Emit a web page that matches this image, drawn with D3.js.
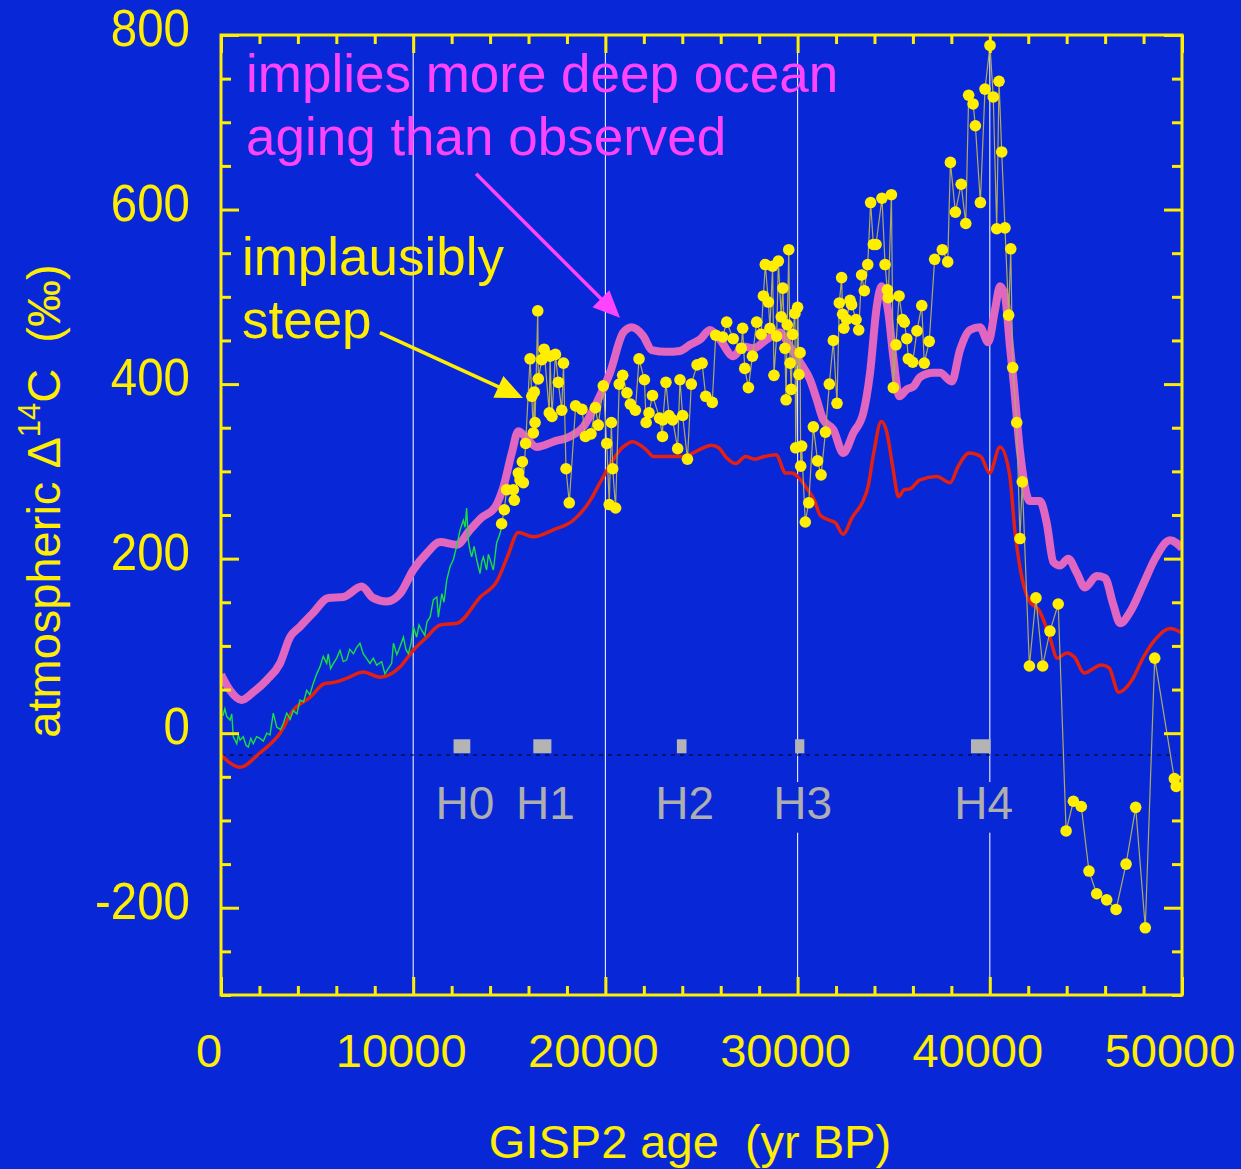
<!DOCTYPE html>
<html>
<head>
<meta charset="utf-8">
<script src="https://cdn.jsdelivr.net/npm/d3@7"></script>
<style>
  html, body { margin: 0; padding: 0; background: #0828d8; }
  svg { display: block; }
  text { font-family: "Liberation Sans", Arial, Helvetica, sans-serif; }
</style>
</head>
<body>
<svg id="chart" width="1241" height="1169"></svg>
<script>
// ---- data: [GISP2 age (yr BP), atmospheric Δ14C (‰)] ----

// tree-ring / varve based record
const treeRingRecord = [
  [100,20],[200,28],[300,19],[470,15],[560,22],[640,-4],[820,-12],[900,-2],[990,-8],[1160,-4],
  [1300,-14],[1420,-16],[1550,-6],[1680,-12],[1850,-4],[2030,-6],[2200,-9],[2380,0],[2550,-2],
  [2720,23],[2900,7],[3100,4],[3240,11],[3420,23],[3600,16],[3760,26],[3950,22],[4110,38],
  [4300,36],[4460,49],[4620,44],[4800,57],[4980,68],[5150,76],[5320,88],[5500,80],[5580,91],
  [5700,74],[5850,80],[6020,86],[6190,95],[6360,82],[6540,84],[6700,96],[6890,91],[7050,98],
  [7230,103],[7400,91],[7560,86],[7750,80],[7920,86],[8100,78],[8360,82],[8530,68],[8700,74],
  [8880,80],[8970,103],[9150,90],[9310,99],[9490,110],[9620,96],[9750,91],[9900,104],
  [10010,122],[10180,110],[10300,124],[10440,118],[10600,112],[10720,128],[10880,133],
  [11050,153],[11230,156],[11310,133],[11490,160],[11600,150],[11750,176],[11920,191],
  [12090,199],[12260,214],[12440,233],[12610,244],[12700,236],[12780,258],[12870,221],
  [12950,210],[13040,202],[13170,214],[13300,199],[13480,183],[13560,196],[13650,202],
  [13820,187],[13910,205],[14000,199],[14170,187],[14340,218],[14520,229],[14600,237]
];

// model run requiring extra deep-ocean aging (thick pink)
const agingModel = [
  [0,67],[470,49],[1070,38],[1680,47],[2380,61],[3070,80],[3590,110],[4110,122],[4800,138],
  [5580,155],[6350,156],[7320,168],[7910,155],[8620,151],[9320,160],[10000,187],[10700,206],
  [11400,219],[12260,216],[12960,233],[13560,247],[14260,259],[14690,282],[15130,321],
  [15470,346],[15820,340],[16430,328],[17290,334],[18160,340],[18850,351],[19550,379],
  [20240,413],[20930,459],[21370,465],[21970,455],[22410,439],[23190,437],[23880,438],
  [24400,445],[24920,451],[25440,462],[25960,451],[26650,432],[27180,443],[27700,441],
  [28390,451],[29080,459],[29600,443],[30130,425],[30650,405],[31000,382],[31340,359],
  [31860,348],[32380,321],[32900,344],[33420,367],[33770,413],[34120,489],[34370,512],
  [34720,482],[34980,431],[35300,386],[35680,394],[36020,397],[36370,408],[37060,413],
  [37410,413],[38020,403],[38450,439],[38970,462],[39490,465],[39920,448],[40270,485],
  [40530,512],[40790,501],[41050,443],[41250,400],[41570,323],[42090,266],[42610,266],
  [42960,241],[43310,196],[43650,192],[44080,200],[44520,184],[44950,167],[45560,180],
  [45990,178],[46430,147],[46780,126],[47300,139],[47990,171],[48600,200],[49380,221],[50000,212]
];

// model run from the GISP2 10Be/36Cl production record (red)
const productionModel = [
  [0,-25],[1000,-39],[2000,-23],[3070,0],[3750,26],[4630,41],[5400,57],[5830,58],[6560,63],
  [7400,70],[8280,64],[9320,76],[10000,95],[10700,110],[11400,124],[12290,126],[13490,156],
  [14380,175],[14900,202],[15470,230],[16250,225],[17290,233],[18330,244],[19220,267],
  [19720,287],[20920,328],[21410,334],[22110,325],[22510,317],[23300,317],[24100,317],
  [24900,325],[25500,330],[25890,327],[26290,316],[26790,309],[27290,317],[27780,314],
  [28280,317],[28880,319],[29380,298],[29680,298],[30470,281],[30870,267],[31170,250],
  [31660,244],[31970,241],[32360,228],[32860,248],[33360,264],[33660,282],[33960,321],
  [34350,357],[34650,344],[34950,305],[35250,271],[35550,279],[35850,280],[36350,290],
  [37240,294],[37940,287],[38340,305],[38930,321],[39530,317],[39990,298],[40530,328],
  [41020,298],[41320,229],[41620,184],[42020,153],[42610,139],[43120,110],[43510,86],
  [44010,92],[44410,87],[44910,69],[45800,78],[46200,75],[46700,47],[47400,61],[47990,87],
  [48590,107],[49380,120],[49980,115]
];

// Cariaco Basin / coral measurements (yellow points)
const measurements = [
  [14600,240],[14740,256],[14860,279],[15210,279],[15260,267],[15470,298],[15560,290],
  [15680,311],[15730,287],[15850,332],[16080,429],[16170,386],[16250,344],[16300,391],
  [16340,356],[16480,484],[16510,406],[16690,428],[16810,440],[17080,367],[17120,432],
  [17220,363],[17400,434],[17550,402],[17730,370],[17820,424],[17950,303],[18120,264],
  [18450,375],[18780,371],[18960,340],[19250,343],[19480,373],[19630,353],[19890,398],
  [20070,332],[20200,262],[20310,356],[20380,303],[20530,258],[20720,400],[20900,410],
  [21120,390],[21300,377],[21560,370],[21750,429],[22030,405],[22120,356],[22270,367],
  [22450,387],[22820,361],[22970,340],[22990,359],[23150,402],[23310,364],[23500,359],
  [23760,326],[23880,405],[24020,364],[24270,314],[24470,400],[24770,422],[25030,424],
  [25220,386],[25560,379],[25740,456],[26100,454],[26310,471],[26650,452],[27070,441],
  [27140,464],[27250,418],[27440,396],[27650,432],[27870,471],[28100,457],[28220,501],
  [28320,537],[28480,494],[28560,464],[28700,535],[28770,410],[28910,455],[29000,541],
  [29150,477],[29230,510],[29340,441],[29400,382],[29460,468],[29540,554],[29610,424],
  [29670,394],[29740,457],[29860,481],[29900,327],[30000,488],[30070,411],[30130,436],
  [30160,306],[30210,329],[30400,242],[30580,264],[30820,351],[31040,312],[31220,296],
  [31450,345],[31650,400],[31860,450],[32050,378],[32170,493],[32290,522],[32340,480],
  [32410,464],[32550,474],[32730,496],[32810,491],[33040,474],[33180,462],[33330,525],
  [33470,507],[33650,537],[33800,608],[33940,560],[34080,560],[34390,613],[34550,537],
  [34670,508],[34720,499],[34880,617],[34980,396],[35120,445],[35280,501],[35460,474],
  [35550,471],[35680,452],[35760,429],[35990,425],[36210,461],[36460,490],[36590,424],
  [36850,449],[37130,543],[37530,554],[37810,540],[37950,654],[38210,597],[38510,629],
  [38750,584],[38900,731],[39130,721],[39250,696],[39510,608],[39750,738],[40010,788],
  [40180,729],[40360,578],[40480,747],[40620,666],[40790,579],[40980,479],[41090,555],
  [41190,419],[41400,356],[41570,223],[41690,288],[42060,77],[42400,155],[42750,77],
  [43130,117],[43560,148],[43970,-112],[44350,-78],[44760,-84],[45160,-158],[45560,-184],
  [46080,-191],[46570,-202],[47090,-150],[47590,-85],[48090,-223],[48580,86],[49600,-52],[49700,-61]
];

// Heinrich events: age span (yr BP)
const heinrichNames = ["H0", "H1", "H2", "H3", "H4"];
const heinrichStart = [12100, 16250, 23720, 29870, 39020];
const heinrichEnd   = [12970, 17190, 24220, 30350, 40040];

// axes
const xMajorTicks = [0, 10000, 20000, 30000, 40000, 50000];
const xTickLabels = ["0", "10000", "20000", "30000", "40000", "50000"];
const yMajorTicks = [-200, 0, 200, 400, 600, 800];
const yTickLabels = ["-200", "0", "200", "400", "600", "800"];
const xGridLines = [10000, 20000, 30000, 40000];
const referenceLevel = -25;

// ---- drawing ----
const YELLOW = "#ffee00", PINK = "#e066bf", MAGENTA = "#ff44ff", RED = "#e42010",
      GREEN = "#18e040", GRAY = "#b4b4b4", BG = "#0828d8";

const svg = d3.select("#chart");
const L = 221, R = 1182, T = 35, B = 995;
const x = d3.scaleLinear().domain([0, 50000]).range([L, R]);
const y = d3.scaleLinear().domain([-300, 800]).range([B, T]);

svg.append("rect").attr("width", 1241).attr("height", 1169).attr("fill", BG);

svg.append("defs").append("clipPath").attr("id", "plot")
  .append("rect").attr("x", L).attr("y", T).attr("width", R - L).attr("height", B - T);

// vertical grid lines
svg.append("g").selectAll("line").data(xGridLines).join("line")
  .attr("x1", d => x(d)).attr("x2", d => x(d)).attr("y1", T).attr("y2", B)
  .attr("stroke", "#f0f0ff").attr("stroke-width", 1.1);

// reference level
svg.append("line")
  .attr("x1", x(0)).attr("x2", x(49700)).attr("y1", y(referenceLevel)).attr("y2", y(referenceLevel))
  .attr("stroke", "#000").attr("stroke-width", 1.2).attr("stroke-dasharray", "4,5");

// Heinrich event markers and labels
const hg = svg.append("g");
heinrichNames.forEach((name, i) => {
  hg.append("rect")
    .attr("x", x(heinrichStart[i])).attr("width", x(heinrichEnd[i]) - x(heinrichStart[i]))
    .attr("y", y(-7)).attr("height", y(-23) - y(-7))
    .attr("fill", GRAY);
  const cx = x((heinrichStart[i] + heinrichEnd[i]) / 2) + 3;
  const t = hg.append("text")
    .attr("x", cx).attr("y", y(-98))
    .attr("text-anchor", "middle").attr("font-size", 46).attr("fill", "#aeaeae")
    .text(name);
  const bb = t.node().getBBox();
  hg.insert("rect", () => t.node())
    .attr("x", bb.x - 4).attr("y", y(-56)).attr("width", bb.width + 8).attr("height", y(-114) - y(-56))
    .attr("fill", BG);
});

const series = svg.append("g").attr("clip-path", "url(#plot)");

const smooth = d3.line().x(d => x(d[0])).y(d => y(d[1])).curve(d3.curveMonotoneX);
const straight = d3.line().x(d => x(d[0])).y(d => y(d[1]));

series.append("path").datum(productionModel).attr("d", smooth)
  .attr("fill", "none").attr("stroke", RED).attr("stroke-width", 3.5).attr("stroke-linejoin", "round");

series.append("path").datum(agingModel).attr("d", smooth)
  .attr("fill", "none").attr("stroke", PINK).attr("stroke-width", 8).attr("stroke-linejoin", "round");

series.append("path").datum(treeRingRecord).attr("d", straight)
  .attr("fill", "none").attr("stroke", GREEN).attr("stroke-width", 1.4);

series.append("path").datum(measurements).attr("d", straight)
  .attr("fill", "none").attr("stroke", "#b0aa60").attr("stroke-width", 1.2);

series.append("g").selectAll("circle").data(measurements).join("circle")
  .attr("cx", d => x(d[0])).attr("cy", d => y(d[1])).attr("r", 5.8).attr("fill", YELLOW);

// frame with inward ticks on all four sides
const xMinor = d3.range(0, 50001, 2000).filter(v => v % 10000 !== 0);
const yMinor = d3.range(-300, 801, 50).filter(v => v % 200 !== 0);
function tickAxis(axis, g) {
  g.call(axis);
  g.select(".domain").remove();
  g.selectAll("line").attr("stroke", YELLOW).attr("stroke-width", 3);
  g.selectAll("text").remove();
}
const axes = svg.append("g");
[[d3.axisBottom(x), B, xMinor, -9], [d3.axisBottom(x), B, xMajorTicks, -18],
 [d3.axisTop(x), T, xMinor, -9], [d3.axisTop(x), T, xMajorTicks, -18]].forEach(([ax, pos, vals, len]) => {
  tickAxis(ax.tickValues(vals).tickSize(len), axes.append("g").attr("transform", `translate(0,${pos})`));
});
[[d3.axisLeft(y), L, yMinor, -10], [d3.axisLeft(y), L, yMajorTicks, -18],
 [d3.axisRight(y), R, yMinor, -10], [d3.axisRight(y), R, yMajorTicks, -18]].forEach(([ax, pos, vals, len]) => {
  tickAxis(ax.tickValues(vals).tickSize(len), axes.append("g").attr("transform", `translate(${pos},0)`));
});
svg.append("rect").attr("x", L).attr("y", T).attr("width", R - L).attr("height", B - T)
  .attr("fill", "none").attr("stroke", YELLOW).attr("stroke-width", 3);

// tick labels
function condense(sel, k) {
  sel.each(function () {
    const w = this.getComputedTextLength();
    d3.select(this).attr("textLength", w * k).attr("lengthAdjust", "spacingAndGlyphs");
  });
}
svg.append("g").selectAll("text").data(xMajorTicks).join("text")
  .attr("x", d => x(d) - 12).attr("y", B + 72)
  .attr("text-anchor", "middle").attr("font-size", 47).attr("fill", YELLOW)
  .text((d, i) => xTickLabels[i]);
svg.append("g").selectAll("text").data(yMajorTicks).join("text")
  .attr("x", 190).attr("y", d => y(d) + 11)
  .attr("text-anchor", "end").attr("font-size", 51).attr("fill", YELLOW)
  .text((d, i) => yTickLabels[i]).call(condense, 0.93);

// axis titles
svg.append("text").attr("x", 690).attr("y", 1158).attr("text-anchor", "middle")
  .attr("font-size", 47).attr("fill", YELLOW).attr("xml:space", "preserve")
  .text("GISP2 age  (yr BP)");
const yt = svg.append("text").attr("transform", "translate(60,501) rotate(-90)")
  .attr("text-anchor", "middle").attr("font-size", 47).attr("fill", YELLOW)
  .attr("xml:space", "preserve");
yt.append("tspan").text("atmospheric Δ");
yt.append("tspan").attr("font-size", 31).attr("dy", -20).text("14");
yt.append("tspan").attr("dy", 20).text("C  (‰)");

// annotations
const ann = svg.append("g").attr("font-size", 53);
ann.append("text").attr("x", x(1300)).attr("y", y(735)).attr("fill", MAGENTA).text("implies more deep ocean");
ann.append("text").attr("x", x(1300)).attr("y", y(663)).attr("fill", MAGENTA).text("aging than observed");
ann.append("text").attr("x", x(1090)).attr("y", y(525)).attr("fill", YELLOW).text("implausibly");
ann.append("text").attr("x", x(1090)).attr("y", y(453)).attr("fill", YELLOW).text("steep");

function arrow(from, to, color) {
  const x0 = x(from[0]), y0 = y(from[1]), x1 = x(to[0]), y1 = y(to[1]);
  const dx = x1 - x0, dy = y1 - y0, len = Math.hypot(dx, dy);
  const ux = dx / len, uy = dy / len, hl = 27, hw = 12;
  const bx = x1 - ux * hl, by = y1 - uy * hl;
  svg.append("line").attr("x1", x0).attr("y1", y0).attr("x2", bx + ux * 2).attr("y2", by + uy * 2)
    .attr("stroke", color).attr("stroke-width", 3.5);
  svg.append("polygon")
    .attr("points", [[x1, y1], [bx - uy * hw, by + ux * hw], [bx + uy * hw, by - ux * hw]].map(p => p.join(",")).join(" "))
    .attr("fill", color);
}
arrow([13270, 641], [20760, 476], MAGENTA);
arrow([8270, 459], [15710, 384], YELLOW);
</script>
</body>
</html>
